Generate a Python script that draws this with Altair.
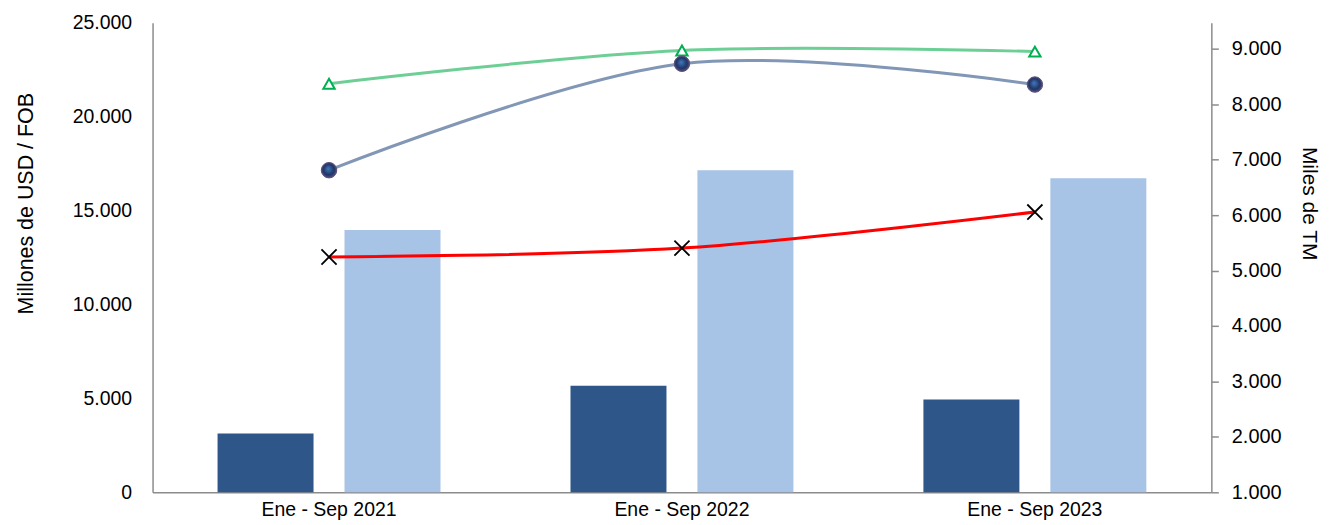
import altair as alt
import pandas as pd

periodos = ["Ene - Sep 2021", "Ene - Sep 2022", "Ene - Sep 2023"]
barra_oscura = [3130, 5680, 4940]
barra_clara = [13960, 17140, 16720]
linea_verde = [8370, 8970, 8950]
linea_gris = [6810, 8730, 8355]
linea_roja = [5245, 5405, 6055]

FONT = "Liberation Sans, Arial"
AXIS_GRAY = "#8C8C8C"

bars_df = pd.DataFrame({
    "periodo": periodos * 2,
    "serie": ["a"] * 3 + ["b"] * 3,
    "valor": barra_oscura + barra_clara,
})
verde_df = pd.DataFrame({"periodo": periodos, "valor": linea_verde})
gris_df = pd.DataFrame({"periodo": periodos, "valor": linea_gris})
roja_df = pd.DataFrame({"periodo": periodos, "valor": linea_roja})

xenc = alt.X(
    "periodo:N", sort=periodos,
    scale=alt.Scale(paddingInner=0, paddingOuter=0),
    axis=alt.Axis(title=None, labelAngle=0, ticks=False, domainColor=AXIS_GRAY,
                  domainWidth=1.5, labelFont=FONT, labelFontSize=19.5,
                  labelColor="black", labelPadding=8),
)

bars = alt.Chart(bars_df).mark_bar().encode(
    x=xenc,
    xOffset=alt.XOffset("serie:N", scale=alt.Scale(paddingInner=0.244, paddingOuter=0.512)),
    y=alt.Y("valor:Q", scale=alt.Scale(domain=[0, 25000], nice=False),
            axis=alt.Axis(values=[0, 5000, 10000, 15000, 20000, 25000],
                          labelExpr="replace(format(datum.value, ','), ',', '.')",
                          ticks=False, grid=False, domainColor=AXIS_GRAY, domainWidth=1.5,
                          labelFont=FONT, labelFontSize=19.5, labelColor="black",
                          labelPadding=21,
                          title="Millones de USD / FOB", titleFont=FONT,
                          titleFontSize=21.5, titleFontWeight="normal",
                          titleColor="black", titleX=-120, titleY=181,
                          titleBaseline="alphabetic", titleAngle=270)),
    color=alt.Color("serie:N", scale=alt.Scale(domain=["a", "b"], range=["#2E5689", "#A7C3E6"]),
                    legend=None),
)

yright = alt.Y("valor:Q", scale=alt.Scale(domain=[1000, 9470], nice=False),
               axis=alt.Axis(orient="right",
                             values=[1000, 2000, 3000, 4000, 5000, 6000, 7000, 8000, 9000],
                             labelExpr="replace(format(datum.value, ','), ',', '.')",
                             grid=False, domainColor=AXIS_GRAY, domainWidth=1.5,
                             tickColor=AXIS_GRAY, tickSize=7, tickWidth=1.5,
                             labelFont=FONT, labelFontSize=20, labelColor="black",
                             labelPadding=13,
                             title="Miles de TM", titleFont=FONT, titleFontSize=21,
                             titleFontWeight="normal", titleColor="black",
                             titleX=91, titleY=181, titleAngle=90,
                             titleBaseline="alphabetic"))

def linea(df, color):
    return alt.Chart(df).mark_line(color=color, strokeWidth=3, interpolate="catmull-rom").encode(
        x=xenc, y=yright)

sphere = alt.RadialGradient(
    gradient="radial", x1=0.45, y1=0.4, r1=0.05, x2=0.5, y2=0.5, r2=0.55,
    stops=[alt.GradientStop(offset=0, color="#3F70B0"),
           alt.GradientStop(offset=0.6, color="#1E3466"),
           alt.GradientStop(offset=1, color="#6A5A86")])

pts_verde = alt.Chart(verde_df).mark_point(
    shape="triangle-up", filled=True, fill="white", stroke="#00B050", strokeWidth=2,
    size=130, opacity=1).encode(x=xenc, y=yright)
pts_gris = alt.Chart(gris_df).mark_point(
    shape="circle", filled=True, fill=sphere, stroke="#5B4C78", strokeWidth=1,
    size=240, opacity=1).encode(x=xenc, y=yright)
pts_roja = alt.Chart(roja_df).mark_point(
    shape="M-1,-1L1,1M1,-1L-1,1", filled=False, stroke="black", strokeWidth=1.8,
    size=230, opacity=1).encode(x=xenc, y=yright)

derecha = alt.layer(
    linea(verde_df, "#6DCF96"),
    linea(gris_df, "#8197B5"),
    linea(roja_df, "#FF0000"),
    pts_verde, pts_gris, pts_roja,
)

chart = alt.layer(bars, derecha).resolve_scale(y="independent").properties(
    width=1062, height=471,
    autosize=alt.AutoSizeParams(type="none"),
    padding={"left": 145, "top": 14, "right": 114, "bottom": 32},
).configure_view(stroke=None).configure_axis(grid=False)

chart.save("out.html", embed_options={"renderer": "svg", "actions": False})
